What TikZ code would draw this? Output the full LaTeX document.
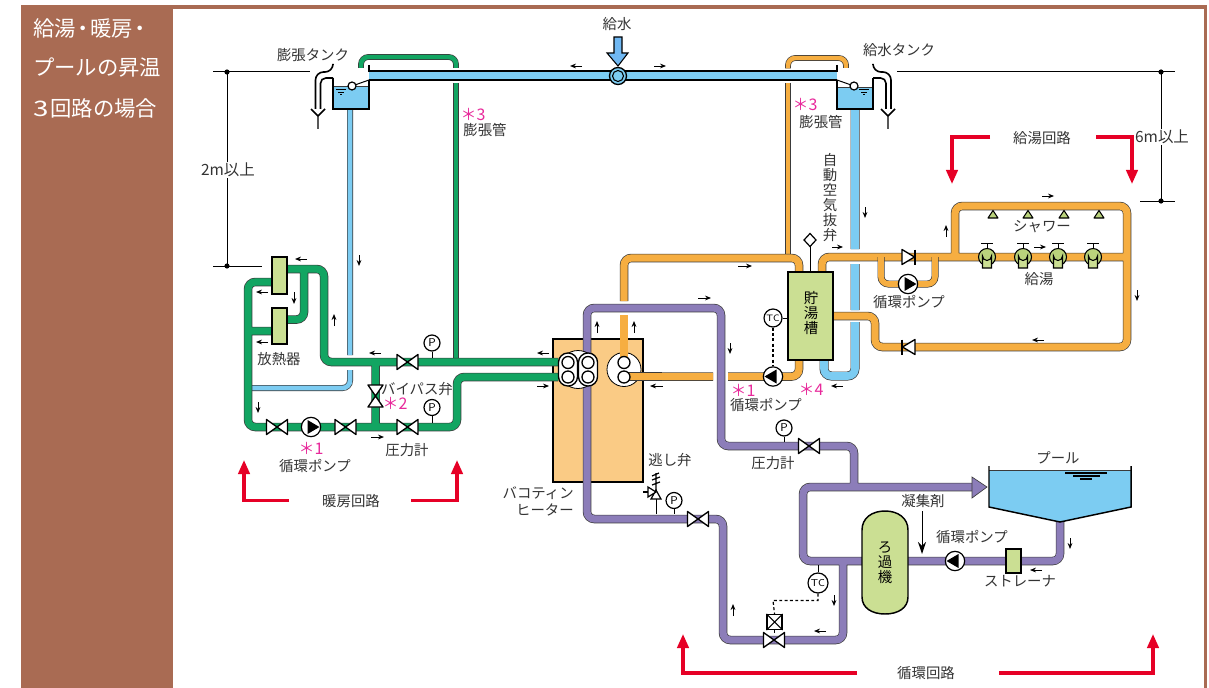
\documentclass[tikz,border=0pt]{standalone}
\usepackage{fontspec}
\setmainfont{Noto Sans CJK JP}
\usetikzlibrary{arrows.meta}
\definecolor{brownbg}{HTML}{A96B53}
\definecolor{pgreen}{HTML}{12A562}
\definecolor{pblue}{HTML}{7CCCF2}
\definecolor{porange}{HTML}{F6AE41}
\definecolor{ppurple}{HTML}{8C7DB9}
\definecolor{lgreen}{HTML}{CBDF93}
\definecolor{tapg}{HTML}{BAD37C}
\definecolor{heat}{HTML}{FACB85}
\definecolor{redarr}{HTML}{E60026}
\definecolor{pinkt}{HTML}{E8299B}
\definecolor{txt}{HTML}{333333}
\definecolor{edge}{HTML}{3A3A3A}
\newcounter{labn}
\tikzset{
  lab/.style={font=\fontsize{10.8pt}{11.25pt}\selectfont,text=txt,inner sep=0pt,align=center},
  side/.style={font=\fontsize{16pt}{16pt}\selectfont,text=white,inner sep=0pt,anchor=west},
  pink/.style={font=\fontsize{12pt}{12pt}\selectfont,text=pinkt,inner sep=0pt},
  flow/.style={-{Stealth[length=4.5pt,width=3.6pt]},line width=.7pt,black},
  redline/.style={line width=2.4pt,redarr,-{Triangle[length=10.5pt,width=8.5pt]},line join=miter},
  gauge/.style={circle,draw=black,fill=white,line width=.9pt,minimum size=12pt,inner sep=0pt,font=\sffamily\fontsize{8.5pt}{9pt}\selectfont},
  pumpc/.style={circle,draw=black,fill=white,line width=.9pt,minimum size=14.5pt,inner sep=0pt},
  thinl/.style={line width=.75pt,black},
  wall/.style={line width=2.1pt,black,line cap=butt},
  equip/.style={draw=black,fill=lgreen,line width=1.1pt},
  ctrl/.style={line width=.9pt,black,dash pattern=on 2.2pt off 1.8pt},
}
\newcommand\pipe[3]{%
  \draw[edge,line width=#2*0.75pt,rounded corners=5.5pt] #3;
  \draw[#1,line width=#2*0.75pt-1pt,rounded corners=5.5pt] #3;
}
\newcommand\lab[2]{\stepcounter{labn}\node[lab] (lab\arabic{labn}) at (#1) {#2};}
\newcommand\plab[2]{\stepcounter{labn}\node[pink] (lab\arabic{labn}) at (#1) {#2};}
\newcommand\arr[2]{\draw[flow] (#1)--(#2);}
\newcommand\valve[4]{\begin{scope}[shift={(#1)},rotate=#4]
  \draw[fill=white,line width=1pt,line join=round] (-#2,-#3)--(#2,#3)--(#2,-#3)--(-#2,#3)--cycle;
\end{scope}}
\newcommand\pump[3]{\node[pumpc] (#1) at (#2) {};
  \begin{scope}[shift={(#2)},rotate=#3]\fill[black] (-3.5,-7)--(8.5,0)--(-3.5,7)--cycle;\end{scope}}
\newcommand\tap[1]{\begin{scope}[shift={(#1,257)}]
  \draw[thinl] (-6,-14)--(6,-14) (0,-14)--(0,-8);
  \draw[fill=tapg,line width=.8pt] (0,0) circle (8.5);
  \draw[fill=lgreen,line width=.8pt] (-4.5,11)--(-4.5,-1) arc (180:0:4.5)--(4.5,11)--cycle;
\end{scope}}
\newcommand\shower[1]{\draw[fill=tapg,line width=.8pt,line join=round] (#1-5,218)--(#1,210.5)--(#1+5,218)--cycle;}
\newcommand\level[2]{\begin{scope}[shift={(#1,#2)}]\draw[thinl] (-5,0)--(5,0) (-3,2.5)--(3,2.5) (-1,5)--(1,5);\end{scope}}
\begin{document}
\begin{tikzpicture}[x=0.75pt,y=-0.75pt]
\useasboundingbox (0,0) rectangle (1209,688);
\fill[white] (0,0) rectangle (1209,688);
\fill[brownbg] (21,5) rectangle (1207,688);
\fill[white] (173,9) rectangle (1204,688);
\node[side] (s1) at (33,28) {給湯\kern-2.6pt・\kern-2.6pt暖房\kern-2.6pt・};
\node[side] (s2) at (33,68) {プールの昇温};
\node[side] (s3) at (33,108) {\scalebox{1.3}[1]{3}\kern1.5pt{}回路の場合};

% dimension lines
\draw[thinl] (213,72)--(310,72) (227,72)--(227,266) (213,266)--(262,266);
\draw[thinl] (897,72)--(1175,72) (1161,72)--(1161,201) (1140,201)--(1175,201);
\foreach \p in {(227,72),(227,266),(1161,72),(1161,201)} \fill \p circle (2.6);
\node[lab,fill=white,inner sep=1pt,font=\fontsize{11.6pt}{12pt}\selectfont] (d2) at (228,170) {2m以上};
\node[lab,fill=white,inner sep=1pt,font=\fontsize{11.6pt}{12pt}\selectfont] (d6) at (1162,137) {6m以上};

% heater
\draw[fill=heat,line width=1.1pt] (553,339) rectangle (643,482);

% blue pipes
\pipe{pblue}{6}{(350,109)--(350,355) (350,370)--(350,388)--(252,388)}
\pipe{pblue}{9}{(855,109)--(855,249) (855,264)--(855,310) (855,322)--(855,376)--(824,376)--(824,360)}
\draw[fill=pblue,draw=none] (369,72) rectangle (837,80);
\draw[line width=1.5pt] (369,71.5)--(837,71.5) (369,80.5)--(837,80.5);

% tanks
\fill[pblue] (333,86) rectangle (369,109);
\fill[pblue] (837,87) rectangle (873,109);
\draw[line width=.5pt,edge] (333,86)--(369,86) (837,87)--(873,87);
\draw[thinl] (369,80)--(352,86) (837,80)--(854,86);
\draw[wall] (333,78)--(333,109)--(369,109)--(369,80);
\draw[wall] (837,80)--(837,109)--(873,109)--(873,78);
\draw[fill=white,line width=.9pt] (352,86) circle (4);
\draw[fill=white,line width=.9pt] (854,86) circle (4);
\level{341}{90}\level{864}{90}
\draw[line width=1.2pt] (369,65)--(369,72) (837,65)--(837,72);
\draw[line width=1.2pt,rounded corners=6pt] (333,65)--(333,72)--(315.5,72)--(315.5,109);
\draw[line width=1.2pt,rounded corners=4pt] (333,78)--(320.5,78)--(320.5,109);
\draw[line width=1.2pt,rounded corners=6pt] (873,65)--(873,72)--(891,72)--(891,109);
\draw[line width=1.2pt,rounded corners=4pt] (873,78)--(886,78)--(886,109);
\draw[line width=1.1pt] (311,109)--(318,116)--(325,109) (318,116)--(318,129);
\draw[line width=1.1pt] (881,109)--(888,116)--(895,109) (888,116)--(888,129);

% feed
\draw[fill=pblue!90!blue,line width=.8pt] (614,37)--(622,37)--(622,53)--(628,53)--(618,66)--(607,53)--(614,53)--cycle;
\draw[fill=pblue,line width=1pt] (618,76) circle (8.5);
\draw[fill=pblue,line width=.8pt] (618,76) circle (5.5);

% purple
\pipe{ppurple}{8.5}{(972,487)--(803,487)--(803,561)--(862,561) (843,561)--(843,640)--(723,640)--(723,519)--(587,519)--(587,308)--(721,308)--(721,446)--(854,446)--(854,487) (908,561)--(1060,561)--(1060,522)}
\draw[fill=ppurple,draw=edge,line width=.5pt] (972,477)--(987,487)--(972,498)--cycle;

% orange
\pipe{porange}{5.8}{(788,83)--(788,256)}
\pipe{porange}{5.8}{(788,68.5)--(788,58)--(846,58)--(846,68)}
\pipe{porange}{8.5}{(624,301)--(624,258)--(799,258)--(799,272) (662,376.5)--(713,376.5) (728,376.5)--(799,376.5)--(799,360) (822,272)--(822,257)--(1127,257) (833,316)--(875,316)--(875,347)--(1127,347)--(1127,206)--(955,206)--(955,257)}
\pipe{porange}{7}{(881,257)--(881,284)--(935,284)--(935,257)}

% green
\pipe{pgreen}{5.8}{(456,83)--(456,360)}
\pipe{pgreen}{5.8}{(361,68)--(361,57)--(456,57)--(456,68)}
\pipe{pgreen}{8.5}{(272,282)--(248,282)--(248,427)--(457,427)--(457,377)--(558,377) (248,331)--(272,331) (287,269)--(324,269)--(324,362)--(558,362) (304,269)--(304,319.5)--(287,319.5) (375.5,362)--(375.5,427)}

% heater heads
\draw[fill=white,line width=.6pt] (578,369.5) circle (19);
\draw[fill=white,line width=1pt,rounded corners=7pt] (558.5,353) rectangle (577.5,386);
\draw[fill=white,line width=1pt,rounded corners=7pt] (578.5,353) rectangle (597.5,386);
\foreach \xc in {568,588} \foreach \yc in {362.5,377} \draw[fill=white,line width=1pt] (\xc,\yc) circle (6);
\draw[fill=white,line width=.6pt] (624,369.5) circle (17);
\pipe{porange}{8.5}{(624,315)--(624,358) (628,376.5)--(662,376.5)}
\foreach \yc in {362.5,377} \draw[fill=white,line width=1pt] (624,\yc) circle (6);

% equipment
\draw[equip] (272,257) rectangle (287,294);
\draw[equip] (272,308) rectangle (287,344);
\node[equip,minimum width=33.75pt,minimum height=66pt,inner sep=0pt] (storage) at (810.5,316) {};
\node[lab,text=black] (storagel) at (811,313) {貯\\湯\\槽};
\draw[equip] (862,530) .. controls (862,518) and (872,511) .. (885,511) .. controls (898,511) and (908,518) .. (908,530) -- (908,597) .. controls (908,608) and (898,614) .. (885,614) .. controls (872,614) and (862,608) .. (862,597) -- cycle;
\node[lab,text=black] (filterl) at (885,563) {ろ\\過\\機};
\draw[equip] (1006,549) rectangle (1021,573);

% pool
\fill[pblue] (989,470) rectangle (1131,507);
\fill[pblue] (989,507)--(1060,522)--(1131,507)--cycle;
\draw[line width=.7pt,edge] (989,470)--(1131,470);
\draw[line width=1.1pt] (989,466)--(989,507)--(1060,522)--(1131,507)--(1131,466);
\draw[line width=.9pt] (1065,473)--(1107,473) (1073,476)--(1100,476) (1080,479)--(1092,479);

% taps and showers
\tap{987}\tap{1023}\tap{1058}\tap{1093}
\shower{993}\shower{1028}\shower{1064}\shower{1099}

% valves
\valve{407.5,362}{10.5}{7.5}{0}
\valve{407.5,427}{10.5}{7.5}{0}
\valve{277,427}{10.5}{7.5}{0}
\valve{345.5,427}{10.5}{7.5}{0}
\valve{375.5,396}{11}{7.5}{90}
\valve{809,446}{10.5}{7.5}{0}
\valve{698,519}{10.5}{7.5}{0}
\valve{774,640}{10.5}{7.5}{0}
% check valves
\draw[fill=white,line width=1pt,line join=round] (902,249.5)--(914.5,257)--(902,264.5)--cycle;
\draw[line width=1.2pt] (915,249.5)--(915,264.5);
\draw[fill=white,line width=1pt,line join=round] (915,339.5)--(902.5,347)--(915,354.5)--cycle;
\draw[line width=1.2pt] (902,339.5)--(902,354.5);

% pumps
\pump{pu1}{311,427}{0}
\pump{pu2}{773,376.5}{180}
\pump{pu3}{908,284}{0}
\pump{pu4}{955,561}{180}

% gauges
\node[gauge] (g1) at (432,343) {P};
\node[gauge] (g2) at (432,407.5) {P};
\node[gauge] (g3) at (784,428) {P};
\node[gauge] (g4) at (674,500.5) {P};
\draw[thinl] (g1)--(432,358) (g2)--(432,423) (g3)--(784,442) (g4)--(674,514);
\node[gauge,font=\sffamily\fontsize{7pt}{7.5pt}\selectfont,minimum size=13.5pt] (tc1) at (773,318) {TC};
\node[gauge,font=\sffamily\fontsize{7.5pt}{8pt}\selectfont,minimum size=15pt] (tc2) at (818,583) {TC};
\draw[thinl] (tc1)--(storage.west |- tc1);
\draw[ctrl] (tc1)--(pu2);
\coordinate (ctl) at (773,600.5);
\node[draw=black,fill=white,line width=1.1pt,minimum size=11pt,inner sep=0pt] (actu) at (774.5,622) {};
\draw[line width=.8pt] (actu.north west)--(actu.south east) (actu.north east)--(actu.south west);
\draw[thinl] (actu)--(774.5,633);
\draw[ctrl] (tc2.south)--(818,600.5)--(ctl)--(actu.north);
\draw[thinl] (tc2)--(818,565);

% air vent
\draw[thinl] (810,272)--(810,246);
\draw[fill=white,line width=.9pt] (810,233.5)--(816,240)--(810,246.5)--(804,240)--cycle;

% relief valve
\draw[thinl] (656,514)--(656,499);
\draw[fill=white,line width=.9pt] (651,499)--(661,499)--(656,490)--cycle;
\draw[fill=white,line width=.9pt] (656,492)--(648,487)--(648,497)--cycle;
\draw[line width=.9pt] (643,492)--(648,492);
\draw[line width=.9pt] (656,490)--(656,473) (652,485)--(660,482) (652,480)--(660,477) (652,476)--(659,473);

% flow arrows
\arr{582,66}{570,66}\arr{654,66}{666,66}
\arr{359,255}{359,266}\arr{865,207}{865,218}
\arr{307,259}{295,259}
\arr{268,292}{256,292}\arr{268,342}{256,342}
\arr{294,292}{294,304}\arr{334,326}{334,314}
\arr{381,353}{369,353}\arr{258,402}{258,413}\arr{371,437}{384,437}
\arr{549,353}{537,353}\arr{537,386}{549,386}
\arr{597,333}{597,321}\arr{634,333}{634,321}
\arr{663,386}{650,386}\arr{698,298}{711,298}\arr{730,343}{730,354}
\arr{843,386}{831,386}\arr{738,266}{752,266}
\arr{832,247}{843,247}\arr{1042,196}{1054,196}\arr{1034,247}{1046,247}
\arr{946,237}{946,225}\arr{1137,290}{1137,301}\arr{1044,340}{1032,340}
\arr{1042,570}{1030,570}\arr{1070,538}{1070,549}
\arr{733,616}{733,604}\arr{834,595}{834,606}\arr{826,631}{814,631}
\draw[line width=.75pt,-{Stealth[length=9pt,width=6pt]}] (922,511)--(922,554);

% red circuit arrows
\draw[redline] (289,500.5)--(244,500.5)--(244,460);
\draw[redline] (411,500.5)--(457,500.5)--(457,460);
\draw[redline] (990,137)--(952,137)--(952,184);
\draw[redline] (1096,137)--(1132,137)--(1132,184);
\draw[redline] (857,673)--(683,673)--(683,634);
\draw[redline] (999,673)--(1153,673)--(1153,634);

% labels
\lab{617,24}{給水}
\lab{313,55}{膨張タンク}
\lab{899,50}{給水タンク}
\plab{473,115}{＊3}
\lab{485,130}{膨張管}
\plab{805,105}{＊3}
\lab{821,122}{膨張管}
\lab{830,198}{自\\動\\空\\気\\抜\\弁}
\lab{1042,138}{給湯回路}
\lab{1042,227}{シャワー}
\lab{1039,279}{給湯}
\lab{909,302}{循環ポンプ}
\lab{279,359}{放熱器}
\lab{417,389}{バイパス弁}
\plab{395,403}{＊2}
\plab{311,448}{＊1}
\lab{315,466}{循環ポンプ}
\lab{407,450}{圧力計}
\lab{351,501}{暖房回路}
\plab{743,390}{＊1}
\lab{766,405}{循環ポンプ}
\plab{811,389}{＊4}
\lab{773,463}{圧力計}
\lab{670,460}{逃し弁}
\node[lab,align=right,anchor=east] (lab90) at (574,501.5) {バコティン\\[2pt]ヒーター};
\lab{923,501}{凝集剤}
\lab{972,537}{循環ポンプ}
\lab{1020,581}{ストレーナ}
\lab{1058,458}{プール}
\lab{926,673}{循環回路}
\end{tikzpicture}
\end{document}
